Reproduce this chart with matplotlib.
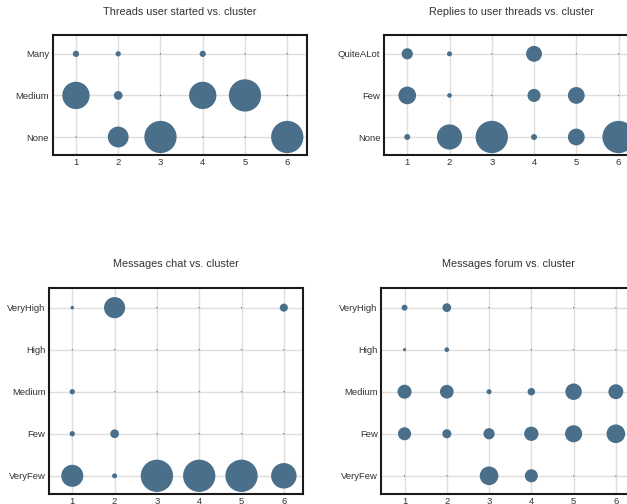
import matplotlib
matplotlib.use("Agg")
import matplotlib.pyplot as plt
import numpy as np

plt.rcParams['font.family'] = ['Liberation Sans', 'DejaVu Sans']

clusters = [1, 2, 3, 4, 5, 6]

# share of each cluster (percent) per category, rows follow the category lists
threads_cats = ["None", "Medium", "Many"]
threads_vals = [
    [0, 63, 100, 0, 0, 100],
    [84, 24, 0, 84, 100, 0],
    [16, 13, 0, 16, 0, 0],
]

replies_cats = ["None", "Few", "QuiteALot"]
replies_vals = [
    [15, 77, 100, 15, 50, 100],
    [53, 11, 0, 38, 50, 0],
    [32, 12, 0, 47, 0, 0],
]

chat_cats = ["VeryFew", "Few", "Medium", "High", "VeryHigh"]
chat_vals = [
    [67, 12, 100, 100, 100, 78],
    [13, 24, 0, 0, 0, 0],
    [13, 0, 0, 0, 0, 0],
    [0, 0, 0, 0, 0, 0],
    [7, 64, 0, 0, 0, 22],
]

forum_cats = ["VeryFew", "Few", "Medium", "High", "VeryHigh"]
forum_vals = [
    [0, 0, 56, 38, 0, 0],
    [38, 25, 32, 42, 51, 56],
    [41, 40, 12, 20, 49, 44],
    [6, 11, 0, 0, 0, 0],
    [15, 24, 0, 0, 0, 0],
]

W, H = 627, 504
COLOR = "#4a6f8b"


def add_axes_px(fig, left, top, width, height):
    return fig.add_axes([left / W, 1 - (top + height) / H, width / W, height / H])


def bubble_panel(fig, rect, title, title_y, cats, vals):
    ax = add_axes_px(fig, *rect)
    vals = np.array(vals, dtype=float)
    xs, ys, ss = [], [], []
    for j, row in enumerate(vals):
        for i, v in enumerate(row):
            d_px = 1.3 + 0.31 * v
            xs.append(clusters[i])
            ys.append(j)
            ss.append((d_px * 0.72) ** 2)
    ax.scatter(xs, ys, s=ss, color=COLOR, linewidths=0, zorder=3)
    ax.set_xlim(0.45, 6.46)
    ax.set_ylim(-0.44, len(cats) - 1 + 0.46)
    ax.set_xticks(clusters)
    ax.set_yticks(range(len(cats)))
    ax.set_yticklabels(cats)
    ax.tick_params(length=0, labelsize=6.8, labelcolor="#333333")
    ax.tick_params(axis="x", pad=2.2)
    ax.tick_params(axis="y", pad=2.6)
    ax.grid(True, color="#dedede", linewidth=1.0, zorder=0)
    ax.set_axisbelow(True)
    for sp in ax.spines.values():
        sp.set_color("#1a1a1a")
        sp.set_linewidth(1.5)
    fig.text((rect[0] + rect[2] / 2) / W, 1 - title_y / H, title,
             ha="center", va="center", fontsize=7.8, color="#333333")
    return ax


fig = plt.figure(figsize=(W / 100, H / 100), dpi=100)

bubble_panel(fig, (52.7, 34.7, 254, 120.6), "Threads user started vs. cluster", 12,
             threads_cats, threads_vals)
bubble_panel(fig, (384, 34.7, 254, 120.6), "Replies to user threads vs. cluster", 12,
             replies_cats, replies_vals)
bubble_panel(fig, (49, 288.3, 254.3, 206), "Messages chat vs. cluster", 264,
             chat_cats, chat_vals)
bubble_panel(fig, (381.3, 288.3, 254, 206), "Messages forum vs. cluster", 264,
             forum_cats, forum_vals)

fig.savefig("out.png", dpi=100)
